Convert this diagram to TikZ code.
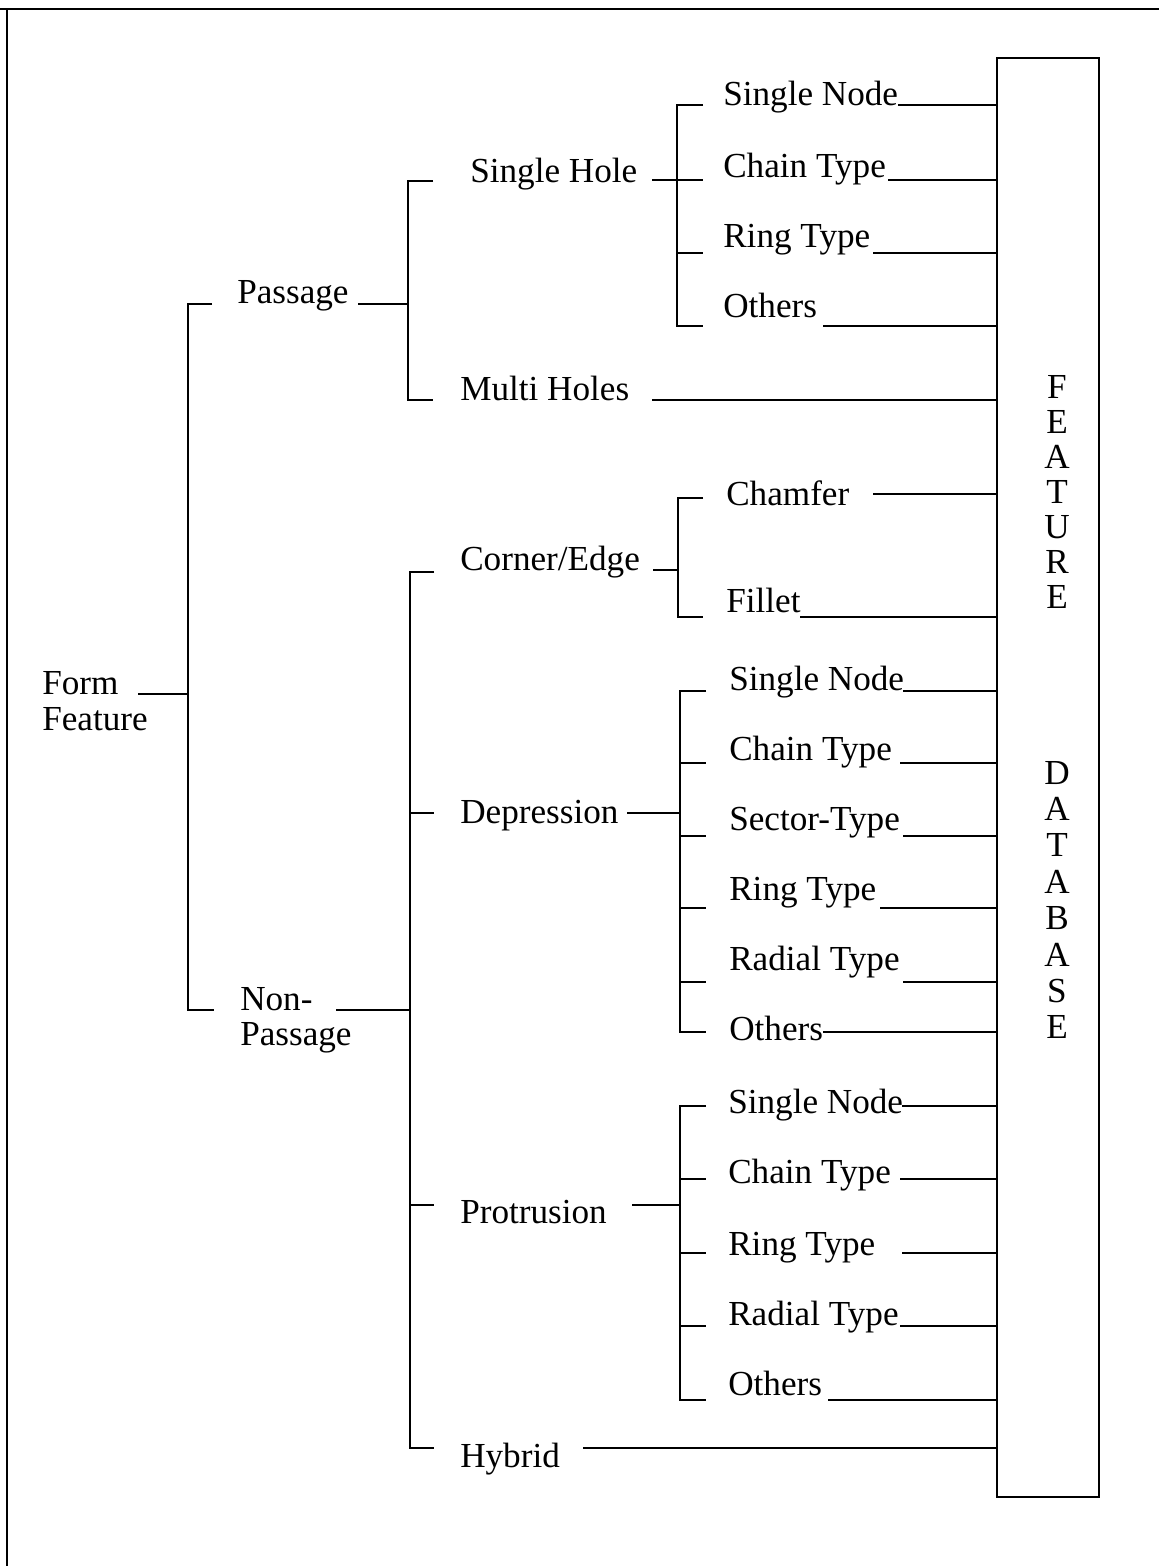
\documentclass[tikz,border=0pt]{standalone}
\usepackage{fontspec}
\setmainfont{Liberation Serif}
\begin{document}
\begin{tikzpicture}[x=0.025cm,y=-0.025cm,
  wire/.style={line width=1.3pt, line join=miter},
  lbl/.style={anchor=base west, inner sep=0pt, font=\fontsize{25}{30}\selectfont},
  letter/.style={anchor=base, inner sep=0pt, font=\fontsize{25}{30}\selectfont}]
\useasboundingbox (0,0) rectangle (1159,1566);

% page frame (top and left edges)
\draw[line width=1.5pt] (0,9) -- (1159,9);
\draw[line width=1.5pt] (7,9) -- (7,1566);

% feature database column
\node[draw, line width=1.3pt, minimum width=2.55cm, minimum height=35.975cm, inner sep=0pt] (db) at (1048,777.5) {};
\foreach \ch [count=\i] in {F,E,A,T,U,R,E}
  \node[letter] (fe\i) at (1057,{398+35*(\i-1)}) {\ch};
\foreach \ch [count=\i] in {D,A,T,A,B,A,S,E}
  \node[letter] (da\i) at (1057,{784+36.4*(\i-1)}) {\ch};

% root
\node[lbl] (ff1) at (42,694) {Form};
\node[lbl] (ff2) at (42,730) {Feature};
\coordinate (bff) at (188,694);
\draw[wire] (138,694) -- (bff);
\draw[wire] (212,304) -- (188,304) -- (188,1010) -- (214,1010);

% first level
\node[lbl] (pas) at (237,303) {Passage};
\node[lbl] (np1) at (240,1010) {Non-};
\node[lbl] (np2) at (240,1045) {Passage};

% passage branch
\coordinate (bpas) at (408,304);
\draw[wire] (358,304) -- (bpas);
\draw[wire] (433,181) -- (408,181) -- (408,400) -- (433,400);
\node[lbl] (sh) at (470,182) {Single Hole};
\node[lbl] (mh) at (460,400) {Multi Holes};

% single hole leaves
\coordinate (bsh) at (677,180);
\draw[wire] (652,180) -- (bsh);
\draw[wire] (703,105) -- (677,105) -- (677,326) -- (703,326);
\draw[wire] (677,180) -- (703,180);
\draw[wire] (677,253) -- (703,253);
\node[lbl] (sh1) at (723,105) {Single Node};
\node[lbl] (sh2) at (723,177) {Chain Type};
\node[lbl] (sh3) at (723,247) {Ring Type};
\node[lbl] (sh4) at (723,317) {Others};
\foreach \xs/\yy in {898/105, 888/180, 873/253, 823/326, 652/400}
  \draw[wire] (\xs,\yy) -- (db.west |- 0,\yy);

% non-passage branch
\coordinate (bnp) at (410,1010);
\draw[wire] (336,1010) -- (bnp);
\draw[wire] (434,572) -- (410,572) -- (410,1448) -- (434,1448);
\draw[wire] (410,813) -- (434,813);
\draw[wire] (410,1205) -- (434,1205);
\node[lbl] (ce) at (460,570) {Corner/Edge};
\node[lbl] (dep) at (460,823) {Depression};
\node[lbl] (pro) at (460,1223) {Protrusion};
\node[lbl] (hyb) at (460,1467) {Hybrid};

% corner / edge leaves
\coordinate (bce) at (678,570);
\draw[wire] (653,570) -- (bce);
\draw[wire] (703,498) -- (678,498) -- (678,617) -- (703,617);
\node[lbl] (ce1) at (726,505) {Chamfer};
\node[lbl] (ce2) at (726,612) {Fillet};
\foreach \xs/\yy in {873/494, 800/617}
  \draw[wire] (\xs,\yy) -- (db.west |- 0,\yy);

% depression leaves
\coordinate (bdep) at (680,813);
\draw[wire] (627,813) -- (bdep);
\draw[wire] (706,691) -- (680,691) -- (680,1032) -- (706,1032);
\foreach \yy in {763,836,908,982}
  \draw[wire] (680,\yy) -- (706,\yy);
\node[lbl] (d1) at (729,690) {Single Node};
\node[lbl] (d2) at (729,760) {Chain Type};
\node[lbl] (d3) at (729,830) {Sector-Type};
\node[lbl] (d4) at (729,900) {Ring Type};
\node[lbl] (d5) at (729,970) {Radial Type};
\node[lbl] (d6) at (729,1040) {Others};
\foreach \xs/\yy in {903/691, 900/763, 903/836, 880/908, 903/982, 823/1032}
  \draw[wire] (\xs,\yy) -- (db.west |- 0,\yy);

% protrusion leaves
\coordinate (bpro) at (680,1205);
\draw[wire] (632,1205) -- (bpro);
\draw[wire] (706,1106) -- (680,1106) -- (680,1400) -- (706,1400);
\foreach \yy in {1179,1253,1326}
  \draw[wire] (680,\yy) -- (706,\yy);
\node[lbl] (p1) at (728,1113) {Single Node};
\node[lbl] (p2) at (728,1183) {Chain Type};
\node[lbl] (p3) at (728,1255) {Ring Type};
\node[lbl] (p4) at (728,1325) {Radial Type};
\node[lbl] (p5) at (728,1395) {Others};
\foreach \xs/\yy in {902/1106, 900/1179, 902/1253, 900/1326, 828/1400, 583/1448}
  \draw[wire] (\xs,\yy) -- (db.west |- 0,\yy);
\end{tikzpicture}
\end{document}
